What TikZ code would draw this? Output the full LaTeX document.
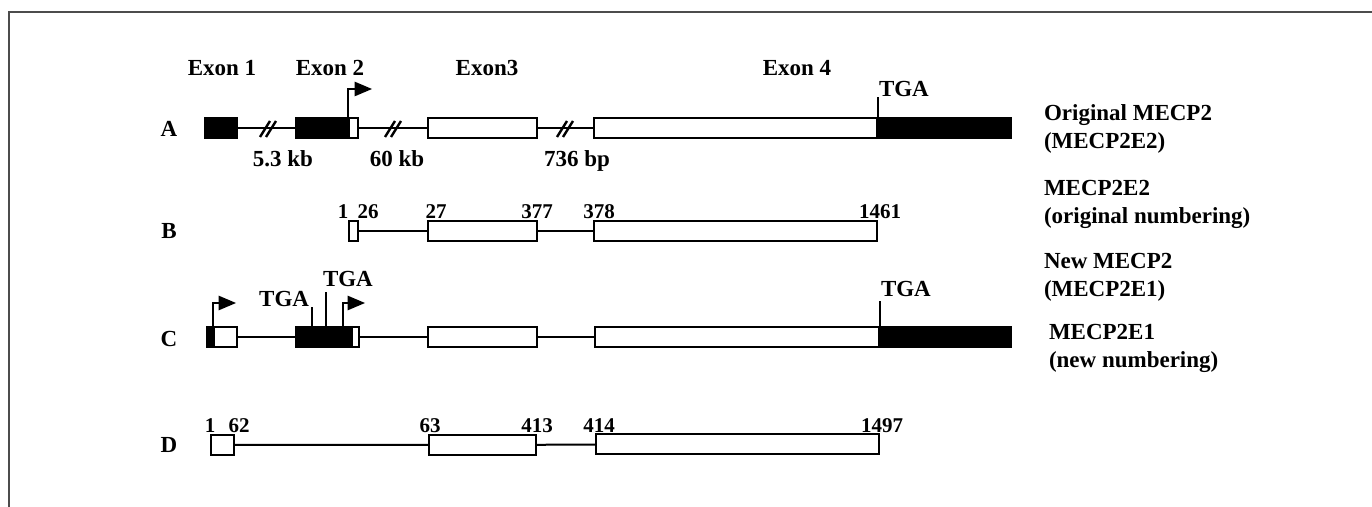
\documentclass[tikz,border=0pt]{standalone}
\usepackage{fontspec}
\setmainfont{Liberation Serif}
\usetikzlibrary{positioning, arrows}
\newcommand{\exon}[5]{\node[exon, fill=#5, minimum width={(#3-#2)*0.5pt-1pt}] (#1) at ({(#2+#3)/2},#4) {};}

\begin{document}
\begin{tikzpicture}[x=0.5pt, y=-0.5pt, line width=1pt,
    exon/.style={draw, inner sep=0pt, minimum height=10pt},
    intron/.style={line width=1pt},
    prom/.style={->, >=triangle 45, line width=1pt},
    lbl/.style={font=\fontsize{11.5}{14}\selectfont\bfseries, inner sep=0pt},
    rowlab/.style={lbl, anchor=base},
    genelab/.style={lbl, anchor=west, align=left},
    num/.style={font=\fontsize{10.5}{12}\selectfont\bfseries, inner sep=0pt, anchor=base},
    brk/.pic={\draw[line width=1.2pt] (-8,8) -- (2,-8) (-2,8) -- (8,-8);}]
  \useasboundingbox (0,0) rectangle (1372,507);
  \draw[line width=0.8pt, black!70] (9,507) -- (9,12) -- (1372,12);

  \node[rowlab] (ex1) at (222,76) {Exon 1};
  \node[rowlab] (ex2) at (330,76) {Exon 2};
  \node[rowlab] (ex3) at (487,76) {Exon3};
  \node[rowlab] (ex4) at (797,76) {Exon 4};

  % A
  \exon{a1}{204}{238}{128}{black}
  \exon{a2b}{295}{348}{128}{black}
  \exon{a2w}{348}{359}{128}{white}
  \exon{a3}{427}{538}{128}{white}
  \exon{a4w}{593}{878}{128}{white}
  \exon{a4b}{878}{1012}{128}{black}
  \draw[intron] (a1) -- (a2b) (a2w) -- (a3) (a3) -- (a4w);
  \pic at (268,129) {brk};
  \pic at (393,129) {brk};
  \pic at (565,129) {brk};
  \draw[prom] (a2w.north west) -- ++(0,-28) -- ++(24,0);
  \draw (a4w.north east) -- ++(0,-20) node[lbl, anchor=base west] (tgaA) {TGA};
  \node[rowlab] (kb1) at (283,167) {5.3 kb};
  \node[rowlab] (kb2) at (397,167) {60 kb};
  \node[rowlab] (bp3) at (577,167) {736 bp};
  \node[rowlab] (labA) at (169,137) {A};
  \node[genelab] (nmA) at (1043,129) {Original MECP2\\(MECP2E2)};

  % B
  \exon{b1}{348}{359}{231}{white}
  \exon{b3}{427}{538}{231}{white}
  \exon{b4}{593}{878}{231}{white}
  \draw[intron] (b1) -- (b3) (b3) -- (b4);
  \node[num] (nb1) at (343,219) {1};
  \node[num] (nb2) at (368,219) {26};
  \node[num] (nb3) at (436,219) {27};
  \node[num] (nb4) at (537,219) {377};
  \node[num] (nb5) at (599,219) {378};
  \node[num] (nb6) at (880,219) {1461};
  \node[rowlab] (labB) at (169,239) {B};
  \node[genelab] (nmB) at (1043,204) {MECP2E2\\(original numbering)};

  % C
  \exon{c1b}{206}{213}{337}{black}
  \exon{c1w}{213}{238}{337}{white}
  \exon{c2b}{295}{351}{337}{black}
  \exon{c2w}{351}{360}{337}{white}
  \exon{c3}{427}{538}{337}{white}
  \exon{c4w}{594}{880}{337}{white}
  \exon{c4b}{880}{1012}{337}{black}
  \draw[intron] (c1w) -- (c2b) (c2w) -- (c3) (c3) -- (c4w);
  \draw[prom] (c1b.north east) -- ++(0,-23) -- ++(23,0);
  \draw[prom] ([xshift=-4pt]c2b.north east) -- ++(0,-23) -- ++(22,0);
  \draw ([xshift=8.5pt]c2b.north west) -- ++(0,-19)
    node[lbl, anchor=base east, xshift=-1pt] (tgaC1) {TGA};
  \draw ([xshift=15.5pt]c2b.north west) -- ++(0,-34)
    node[lbl, anchor=base west, xshift=-2pt, yshift=2.5pt] (tgaC2) {TGA};
  \draw (c4w.north east) -- ++(0,-25)
    node[lbl, anchor=base west, yshift=2pt] (tgaC4) {TGA};
  \node[rowlab] (labC) at (169,347) {C};
  \node[genelab] (nmC) at (1043,277) {New MECP2\\(MECP2E1)};

  % D
  \exon{d1}{210}{235}{445}{white}
  \exon{d3}{428}{537}{445}{white}
  \exon{d4}{595}{880}{444}{white}
  \draw[intron] (d1) -- (d3) (d3) -- (d4);
  \node[num] (nd1) at (210,433) {1};
  \node[num] (nd2) at (239,433) {62};
  \node[num] (nd3) at (430,433) {63};
  \node[num] (nd4) at (537,433) {413};
  \node[num] (nd5) at (599,433) {414};
  \node[num] (nd6) at (882,433) {1497};
  \node[rowlab] (labD) at (169,453) {D};
  \node[genelab] (nmD) at (1048,348) {MECP2E1\\(new numbering)};
\end{tikzpicture}
\end{document}
